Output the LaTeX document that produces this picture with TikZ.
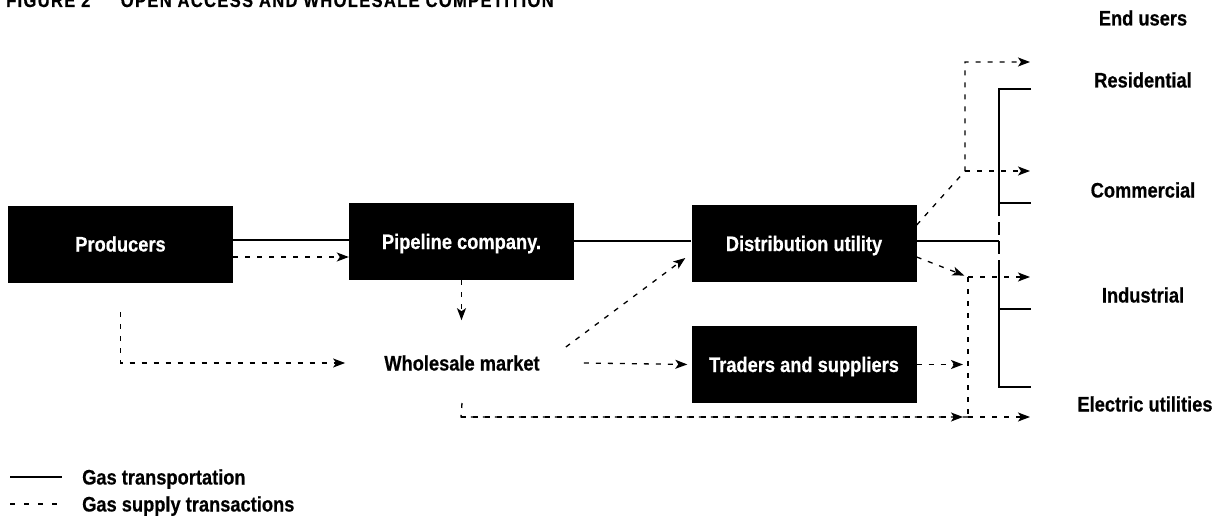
\documentclass[tikz,border=0pt]{standalone}
\usepackage{fontspec}
\usetikzlibrary{arrows.meta}
\newfontfamily\labfam{Liberation Sans}[FakeStretch=0.87,BoldFeatures={FakeBold=0.5}]
\newfontfamily\titfam{Liberation Sans}[FakeStretch=0.87,LetterSpace=7,BoldFeatures={FakeBold=0.5}]
\newcommand{\labfont}{\labfam\bfseries\fontsize{21}{24}\selectfont}
\newcommand{\titfont}{\titfam\bfseries\fontsize{19}{22}\selectfont}
\tikzset{
  box/.style={fill=black, text=white, minimum width=225pt, minimum height=77pt,
    inner sep=0pt, font=\labfont, text height=15pt, text depth=0pt},
  lab/.style={inner sep=0pt, font=\labfont, text height=15pt, text depth=0pt},
  gas/.style={line width=1.3pt},
  dashline/.style={line width=1.3pt, dash pattern=on 5pt off 7pt},
  supply/.style={dashline, -{Stealth[length=12pt,width=9pt,inset=3pt]}},
}
\begin{document}
\begin{tikzpicture}[x=1pt,y=-1pt]
\useasboundingbox (0,0) rectangle (1221,532);
\clip (0,0) rectangle (1221,532);
% title
\node[anchor=base west, inner sep=0pt, font=\titfont] (title) at (6,7)
  {FIGURE 2\hspace{1.6em}OPEN ACCESS AND WHOLESALE COMPETITION};
% main boxes
\node[box] (prod) at (120.5,244) {Producers};
\node[box] (pipe) at (461.5,241.5) {Pipeline company.};
\node[box] (dist) at (804,243.5) {Distribution utility};
\node[box] (trad) at (804,364.5) {Traders and suppliers};
\node[lab] (whol) at (462,363) {Wholesale market};
% end users
\node[lab] (eu) at (1143,18) {End users};
\node[lab] (res) at (1143,80) {Residential};
\node[lab] (com) at (1143,190) {Commercial};
\node[lab] (ind) at (1143,295) {Industrial};
\node[lab] (ele) at (1145,404) {Electric utilities};
% junction coordinates
\coordinate (busR) at (999,89);
\coordinate (busC) at (999,203);
\coordinate (busG1) at (999,268);
\coordinate (busI) at (999,309);
\coordinate (busE) at (999,387);
\coordinate (busD) at (999,241);
\coordinate (endR) at (1031,89);
\coordinate (endC) at (1031,203);
\coordinate (endI) at (1031,309);
\coordinate (endE) at (1031,387);
\coordinate (jUp) at (965,171);
\coordinate (jTop) at (965,62);
\coordinate (tipRes) at (1030,62);
\coordinate (tipCom) at (1030,171);
\coordinate (jInd) at (968,277);
\coordinate (tipInd) at (1030,277);
\coordinate (jEle) at (968,417);
\coordinate (tipEle) at (1030,417);
\coordinate (pBot) at (120.5,363);
\coordinate (wBot) at (461,417);
% gas transportation
\draw[gas] (prod.east |- 0,240) -- (pipe.west |- 0,240);
\draw[gas] (pipe.east |- 0,241) -- (dist.west |- 0,241);
\draw[gas] (dist.east |- busD) -- (busD);
\draw[gas] (endR) -- (busR) -- (busC) -- (endC);
\draw[gas, dash pattern=on 13pt off 6pt] (busC) -- (busG1);
\draw[gas] (busG1) -- (busE) -- (endE);
\draw[gas] (busI) -- (endI);
% gas supply transactions
\draw[supply] (prod.east |- 0,257) -- (pipe.west |- 0,257);
\draw[supply] (pipe.south) -- ++(0,40);
\draw[supply] (prod.south |- 0,312) -- (pBot) -- ([xshift=-39pt]whol.west);
\draw[supply, shorten >=4pt] ([xshift=44pt]whol.east) -- (trad.west);
\draw[supply] ([shift={(26,-16)}]whol.east) -- ([shift={(-6,14.5)}]dist.west);
\draw[dashline] (whol.south |- 0,403) -- (wBot) -- (jEle);
\draw[supply] (wBot) -- ([xshift=-5pt]jEle);
\draw[supply] (jEle) -- (tipEle);
\draw[supply, shorten >=5pt] (trad.east) -- (trad.east -| jEle);
\draw[dashline] (jInd) -- (jEle);
\draw[supply, shorten >=4pt] (dist.east |- 0,257) -- (jInd);
\draw[supply] (jInd) -- (tipInd);
\draw[supply] (dist.east |- 0,225) -- (jUp) -- (jTop) -- (tipRes);
\draw[supply] (jUp) -- (tipCom);
% legend
\coordinate (la1) at (10,477);
\coordinate (lb1) at (62,477);
\coordinate (la2) at (10,504);
\coordinate (lb2) at (62,504);
\draw[gas] (la1) -- (lb1);
\draw[dashline, dash pattern=on 5pt off 9pt] (la2) -- (lb2);
\node[lab, anchor=west] (lg1) at (82,477) {Gas transportation};
\node[lab, anchor=west] (lg2) at (82,504) {Gas supply transactions};
\end{tikzpicture}
\end{document}
